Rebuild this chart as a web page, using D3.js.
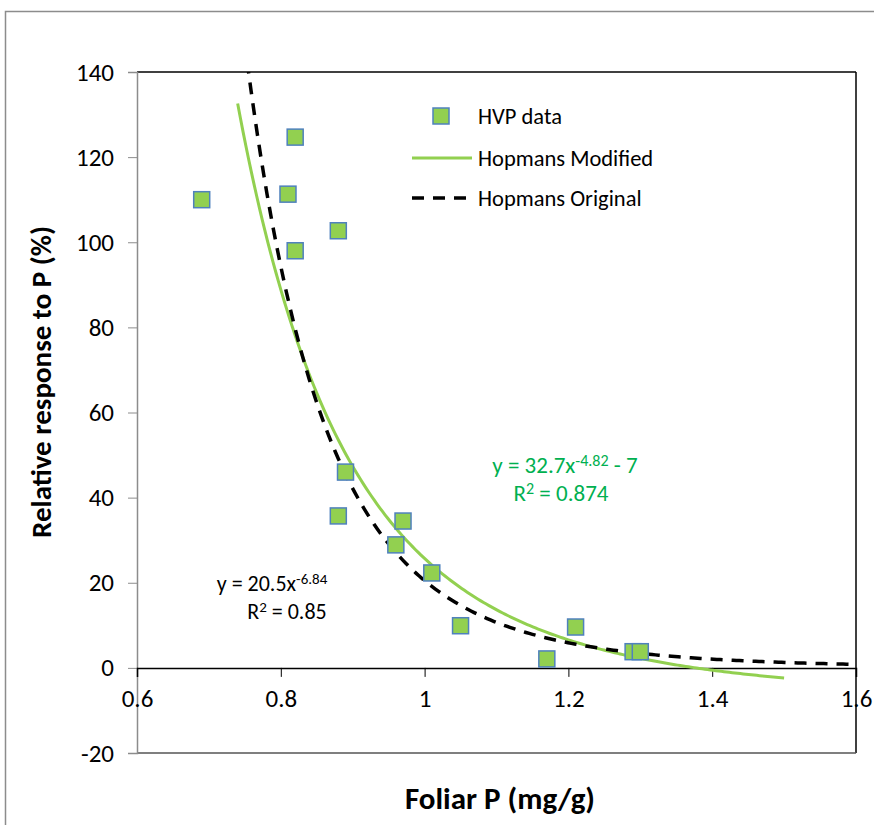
<!DOCTYPE html>
<html>
<head>
<meta charset="utf-8">
<script src="https://cdn.jsdelivr.net/npm/d3@7"></script>
<style>
  body { margin: 0; background: #fff; }
  svg { display: block; font-family: Carlito, Calibri, Lato, sans-serif; }
</style>
</head>
<body>
<svg id="canvas" width="874" height="825"></svg>
<script>
// HVP data points (Foliar P, relative response)
var foliarP = [0.69, 0.82, 0.81, 0.88, 0.82, 0.89, 0.88, 0.97, 0.96, 1.01, 1.05, 1.17, 1.21, 1.29, 1.30];
var response = [110, 124.7, 111.3, 102.7, 98, 46, 35.7, 34.5, 28.9, 22.3, 9.9, 2.1, 9.6, 3.8, 3.8];

// trendline coefficients as printed on the chart: y = a * x^b + c
var modifiedFit = [32.7, -4.82, -7];   // Hopmans Modified
var modifiedRange = [0.74, 1.5];
var originalFit = [20.5, -6.84, 0];    // Hopmans Original
var originalRange = [0.7, 1.6];

var xTicks = [0.6, 0.8, 1, 1.2, 1.4, 1.6];
var yTicks = [-20, 0, 20, 40, 60, 80, 100, 120, 140];

var svg = d3.select("#canvas");
var margin = { left: 137, top: 72, right: 18, bottom: 72 };
var width = 874 - margin.left - margin.right;   // 719
var height = 825 - margin.top - margin.bottom;  // 681

// outer chart border
svg.append("rect")
    .attr("x", 5.5).attr("y", 11.5)
    .attr("width", 900).attr("height", 900)
    .attr("fill", "none")
    .attr("stroke", "#8c8c8c")
    .attr("stroke-width", 1.5);

var x = d3.scaleLinear().domain([0.6, 1.6]).range([0, width]);
var y = d3.scaleLinear().domain([-20, 140]).range([height, 0]);

var g = svg.append("g")
    .attr("transform", "translate(" + margin.left + "," + margin.top + ")");

g.append("defs").append("clipPath").attr("id", "clip")
    .append("rect").attr("width", width).attr("height", height);

// plot area frame: top and right black
g.append("line").attr("x1", 0).attr("x2", width).attr("y1", 0).attr("y2", 0)
    .attr("stroke", "#000").attr("stroke-width", 1.5);
g.append("line").attr("x1", width).attr("x2", width).attr("y1", 0).attr("y2", height)
    .attr("stroke", "#000").attr("stroke-width", 1.5);
g.append("line").attr("x1", 0).attr("x2", width).attr("y1", height).attr("y2", height)
    .attr("stroke", "#555").attr("stroke-width", 1.5);

// y axis
var yAxis = g.append("g")
    .call(d3.axisLeft(y).tickValues(yTicks).tickSize(9).tickPadding(14)
        .tickFormat(function (d) { return String(d); }));
yAxis.select(".domain").attr("stroke", "#8c8c8c").attr("stroke-width", 1.5);
yAxis.selectAll(".tick line").attr("stroke", "#8c8c8c");
yAxis.selectAll("text").attr("font-size", "25px").attr("fill", "#000")
    .attr("font-family", "Carlito, Calibri, Lato, sans-serif");

// x axis crossing at y = 0
var xAxis = g.append("g")
    .attr("transform", "translate(0," + y(0) + ")")
    .call(d3.axisBottom(x).tickValues(xTicks).tickSize(9).tickPadding(12)
        .tickFormat(function (d) { return String(d); }));
xAxis.select(".domain").attr("stroke", "#000").attr("stroke-width", 1.5);
xAxis.selectAll(".tick line").attr("stroke", "#000");
xAxis.selectAll("text").attr("font-size", "25px").attr("fill", "#000")
    .attr("font-family", "Carlito, Calibri, Lato, sans-serif");

// trend curves
function curvePoints(fit, range) {
    var pts = [];
    for (var i = 0; i <= 200; i++) {
        var xv = range[0] + (range[1] - range[0]) * i / 200;
        pts.push([xv, fit[0] * Math.pow(xv, fit[1]) + fit[2]]);
    }
    return pts;
}
var line = d3.line().x(function (d) { return x(d[0]); }).y(function (d) { return y(d[1]); });

var curves = g.append("g").attr("clip-path", "url(#clip)");
curves.append("path")
    .datum(curvePoints(modifiedFit, modifiedRange))
    .attr("d", line)
    .attr("fill", "none")
    .attr("stroke", "#92d050")
    .attr("stroke-width", 3);
curves.append("path")
    .datum(curvePoints(originalFit, originalRange).filter(function (d) { return d[1] < 150; }))
    .attr("d", line)
    .attr("fill", "none")
    .attr("stroke", "#000")
    .attr("stroke-width", 3.5)
    .attr("stroke-dasharray", "12,9");

// data markers
var pts = foliarP.map(function (d, i) { return { p: d, r: response[i] }; });
var ms = 16;
g.selectAll("rect.pt")
    .data(pts)
    .enter()
    .append("rect")
    .attr("class", "pt")
    .attr("x", function (d) { return x(d.p) - ms / 2; })
    .attr("y", function (d) { return y(d.r) - ms / 2; })
    .attr("width", ms)
    .attr("height", ms)
    .attr("fill", "#92d050")
    .attr("stroke", "#4f81bd")
    .attr("stroke-width", 1.5);

// legend
var leg = svg.append("g").attr("font-size", "22.5px");
leg.append("rect").attr("x", 433).attr("y", 108).attr("width", ms).attr("height", ms)
    .attr("fill", "#92d050").attr("stroke", "#4f81bd").attr("stroke-width", 1.5);
leg.append("text").attr("x", 478).attr("y", 124).text("HVP data");
leg.append("line").attr("x1", 412).attr("x2", 472).attr("y1", 158).attr("y2", 158)
    .attr("stroke", "#92d050").attr("stroke-width", 3);
leg.append("text").attr("x", 478).attr("y", 166).text("Hopmans Modified");
leg.append("line").attr("x1", 412).attr("x2", 472).attr("y1", 198).attr("y2", 198)
    .attr("stroke", "#000").attr("stroke-width", 3.5).attr("stroke-dasharray", "12,9");
leg.append("text").attr("x", 478).attr("y", 206).text("Hopmans Original");

// equation labels
function supLabel(px, py, color, size, base, sup, tail) {
    var t = svg.append("text").attr("x", px).attr("y", py).attr("text-anchor", "middle")
        .attr("font-size", size + "px").attr("fill", color);
    t.append("tspan").text(base);
    t.append("tspan").attr("dy", -7).attr("font-size", Math.round(size * 0.7) + "px").text(sup);
    if (tail) t.append("tspan").attr("dy", 7).text(tail);
}
supLabel(565, 473, "#00b050", 23, "y = 32.7x", "-4.82", " - 7");
supLabel(561, 501, "#00b050", 23, "R", "2", " = 0.874");
supLabel(272, 591, "#000", 22, "y = 20.5x", "-6.84", null);
supLabel(287, 619, "#000", 22, "R", "2", " = 0.85");

// axis titles
svg.append("text")
    .attr("x", 500).attr("y", 809)
    .attr("text-anchor", "middle")
    .attr("font-size", "31px").attr("font-weight", "bold")
    .text("Foliar P (mg/g)");
svg.append("text")
    .attr("transform", "translate(51,382) rotate(-90)")
    .attr("text-anchor", "middle")
    .attr("font-size", "29px").attr("font-weight", "bold")
    .text("Relative response to P (%)");
</script>
</body>
</html>
